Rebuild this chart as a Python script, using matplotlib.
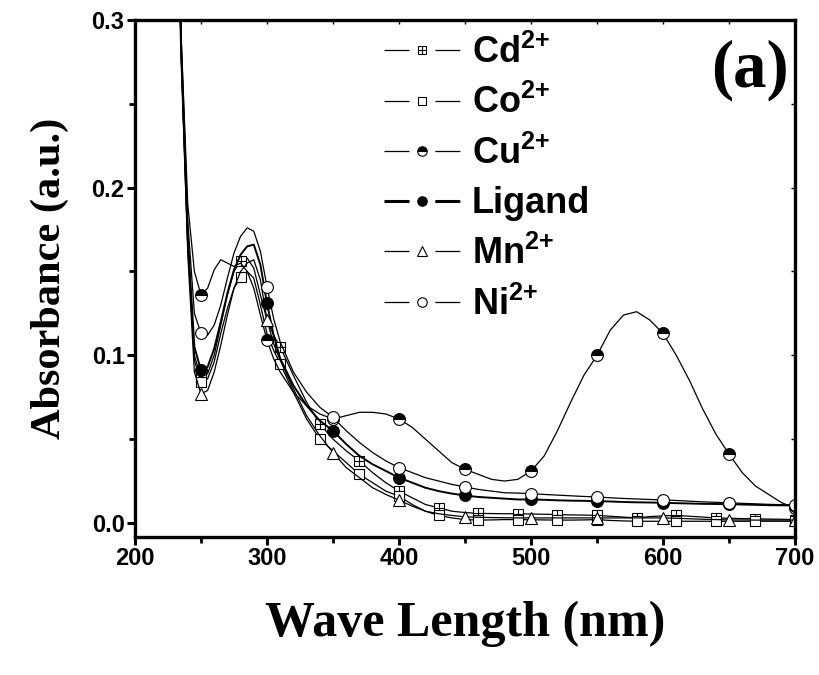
import matplotlib
matplotlib.use("Agg")
import matplotlib.pyplot as plt
from matplotlib.lines import Line2D
from matplotlib.ticker import MultipleLocator

plt.rcParams['mathtext.fontset'] = 'custom'
plt.rcParams['mathtext.rm'] = 'Liberation Sans:bold'
plt.rcParams['mathtext.bf'] = 'Liberation Sans:bold'
plt.rcParams['mathtext.default'] = 'bf'

# wavelength (nm)
wl = [230, 235, 240, 245, 250, 255, 260, 265, 270, 275, 280, 285, 290, 295, 300, 305, 310,
      320, 330, 340, 350, 360, 370, 380, 390, 400, 410, 420, 430, 440, 450, 460, 470, 480,
      490, 500, 510, 520, 530, 540, 550, 560, 570, 580, 590, 600, 610, 620, 630, 640, 650,
      660, 670, 680, 690, 700]

cd = [0.45, 0.28, 0.17, 0.100, 0.0866, 0.089, 0.100, 0.118, 0.136, 0.150, 0.156, 0.158, 0.152,
      0.136, 0.121, 0.112, 0.105,
      0.088, 0.072, 0.059, 0.050, 0.043, 0.037, 0.030, 0.024, 0.019, 0.015, 0.011, 0.009,
      0.007, 0.0062, 0.0057, 0.0056, 0.0055, 0.0055, 0.0053, 0.0052, 0.005, 0.0048, 0.0047,
      0.0045, 0.004, 0.0035, 0.003, 0.0038, 0.0042, 0.0045, 0.004, 0.0035, 0.003, 0.0028,
      0.0026, 0.0025, 0.0023, 0.0022, 0.002]

co = [0.45, 0.28, 0.165, 0.097, 0.084, 0.086, 0.096, 0.113, 0.128, 0.140, 0.1466, 0.150, 0.146,
      0.130, 0.113, 0.103, 0.095,
      0.078, 0.062, 0.050, 0.043, 0.036, 0.029, 0.024, 0.019, 0.016, 0.011, 0.007, 0.0045,
      0.003, 0.002, 0.0017, 0.0018, 0.002, 0.002, 0.0019, 0.0018, 0.0017, 0.0017, 0.0018,
      0.002, 0.0015, 0.0012, 0.001, 0.001, 0.001, 0.001, 0.001, 0.001, 0.001, 0.001,
      0.001, 0.001, 0.001, 0.001, 0.001]

cu = [0.45, 0.29, 0.19, 0.150, 0.136, 0.140, 0.151, 0.157, 0.155, 0.153, 0.155, 0.150, 0.140,
      0.124, 0.109, 0.098, 0.090,
      0.078, 0.070, 0.065, 0.062, 0.064, 0.066, 0.066, 0.065, 0.062, 0.057, 0.050, 0.043,
      0.036, 0.032, 0.029, 0.026, 0.025, 0.026, 0.031, 0.040, 0.055, 0.072, 0.088, 0.100,
      0.115, 0.124, 0.126, 0.121, 0.113, 0.100, 0.085, 0.068, 0.053, 0.041, 0.030, 0.022,
      0.017, 0.012, 0.009]

ligand = [0.45, 0.28, 0.17, 0.105, 0.091, 0.093, 0.104, 0.120, 0.137, 0.151, 0.160, 0.165,
          0.166, 0.154, 0.131, 0.112, 0.098,
          0.082, 0.070, 0.061, 0.055, 0.047, 0.040, 0.035, 0.031, 0.027, 0.024, 0.021, 0.019,
          0.0175, 0.0164, 0.0155, 0.015, 0.0145, 0.014, 0.014, 0.0138, 0.0135, 0.0133, 0.0132,
          0.013, 0.0128, 0.0125, 0.0123, 0.0122, 0.012, 0.0118, 0.0116, 0.0114, 0.0113, 0.0112,
          0.011, 0.0108, 0.0106, 0.0105, 0.0104]

mn = [0.45, 0.28, 0.16, 0.090, 0.077, 0.079, 0.090, 0.106, 0.124, 0.140, 0.150, 0.155, 0.157,
      0.145, 0.121, 0.107, 0.097,
      0.080, 0.064, 0.052, 0.042, 0.033, 0.027, 0.021, 0.017, 0.0136, 0.010, 0.007, 0.0055,
      0.0045, 0.0036, 0.0034, 0.0032, 0.0031, 0.003, 0.003, 0.003, 0.003, 0.003, 0.003,
      0.003, 0.003, 0.003, 0.003, 0.003, 0.003, 0.0028, 0.0025, 0.0022, 0.002, 0.0018,
      0.0018, 0.0017, 0.0017, 0.0017, 0.0017]

ni = [0.45, 0.29, 0.18, 0.125, 0.113, 0.112, 0.118, 0.130, 0.146, 0.161, 0.171, 0.176, 0.174,
      0.162, 0.141, 0.122, 0.108,
      0.090, 0.078, 0.069, 0.063, 0.055, 0.048, 0.042, 0.037, 0.033, 0.030, 0.027, 0.025,
      0.023, 0.0215, 0.020, 0.019, 0.018, 0.0178, 0.0175, 0.017, 0.0166, 0.0162, 0.0158,
      0.0155, 0.015, 0.0146, 0.0143, 0.014, 0.0137, 0.0134, 0.013, 0.0126, 0.0123, 0.012,
      0.0117, 0.0114, 0.0111, 0.0109, 0.0107]

labels = [r'Cd$^{\text{2+}}$', r'Co$^{\text{2+}}$', r'Cu$^{\text{2+}}$', 'Ligand',
          r'Mn$^{\text{2+}}$', r'Ni$^{\text{2+}}$']

# marker positions: every 30 nm for Cd/Co, every 50 nm for the rest
every30 = [i for i, w in enumerate(wl) if w >= 250 and (w - 250) % 30 == 0]
every50 = [i for i, w in enumerate(wl) if w >= 250 and (w - 250) % 50 == 0]

fig = plt.figure(figsize=(8.19, 6.75), dpi=100)
ax = fig.add_axes([0.1648, 0.2044, 0.806, 0.766])

lw = 0.9
ms = 8.5
mew = 0.8
common = dict(color='black', lw=lw, mec='black', mew=mew)

sq = dict(marker='s', ms=ms - 1, mfc='white')
plus = dict(marker='+', ms=ms - 1.5)
half = dict(marker='o', ms=ms, mfc='black', mfcalt='white', fillstyle='top')
full = dict(marker='o', ms=ms, mfc='black')
tri = dict(marker='^', ms=ms + 0.5, mfc='white')
ring = dict(marker='o', ms=ms, mfc='white')

ax.plot(wl, cd, markevery=every30, **sq, **common)
ax.plot(wl, cd, ls='none', mec='black', mew=mew, markevery=every30, **plus)
ax.plot(wl, co, markevery=every30, **sq, **common)
ax.plot(wl, cu, markevery=every50, **half, **common)
ax.plot(wl, ligand, markevery=every50, color='black', lw=1.4, mec='black', mew=mew, **full)
ax.plot(wl, mn, markevery=every50, **tri, **common)
ax.plot(wl, ni, markevery=every50, **ring, **common)

ax.set_xlim(200, 700)
ax.set_ylim(-0.0084, 0.3)
ax.xaxis.set_major_locator(MultipleLocator(100))
ax.xaxis.set_minor_locator(MultipleLocator(50))
ax.yaxis.set_major_locator(MultipleLocator(0.1))
ax.yaxis.set_minor_locator(MultipleLocator(0.05))

for s in ax.spines.values():
    s.set_linewidth(2.4)
ax.tick_params(which='major', direction='out', length=6, width=2.2, pad=1.5)
ax.tick_params(which='minor', direction='out', length=4, width=2.0)
for t in ax.get_xticklabels() + ax.get_yticklabels():
    t.set_fontfamily('Liberation Sans')
    t.set_fontweight('bold')
    t.set_fontsize(17)

top = ax.secondary_xaxis('top')
top.xaxis.set_major_locator(MultipleLocator(50))
top.tick_params(direction='in', length=3, width=1, labeltop=False)
right = ax.secondary_yaxis('right')
right.yaxis.set_major_locator(MultipleLocator(0.05))
right.tick_params(direction='in', length=3, width=1, labelright=False)

ax.set_xlabel('Wave Length (nm)', fontfamily='Liberation Serif', fontweight='bold',
              fontsize=36, labelpad=22)
ax.set_ylabel('Absorbance (a.u.)', fontfamily='Liberation Serif', fontweight='bold',
              fontsize=30.5, labelpad=16)

ax.text(0.99, 0.903, '(a)', transform=ax.transAxes, ha='right', va='center',
        fontfamily='Liberation Serif', fontweight='bold', fontsize=48)

# legend entries: line - gap - marker - gap - line
fs = 26
hlen = 2.1
seg, gap = 18.0, hlen * fs - 2 * 18.0


def entry(style, width, mk_lw=mew):
    seg_line = Line2D([], [], color='black', lw=width, dashes=(seg / width, gap / width))
    mk = Line2D([], [], ls='none', mec='black', mew=mk_lw, **style)
    return seg_line, mk


handles = [
    entry(sq, lw) + (Line2D([], [], ls='none', mec='black', mew=mew, **plus),),
    entry(sq, lw),
    entry(half, lw),
    entry(full, 2.2),
    entry(tri, lw),
    entry(ring, lw),
]
leg = ax.legend(handles, labels, loc='upper left', bbox_to_anchor=(0.355, 1.0),
                frameon=False, handlelength=hlen, handletextpad=0.33, labelspacing=0.40,
                markerscale=0.8, borderaxespad=0,
                prop={'family': 'Liberation Sans', 'weight': 'bold', 'size': fs})

fig.savefig('out.png', dpi=100)
